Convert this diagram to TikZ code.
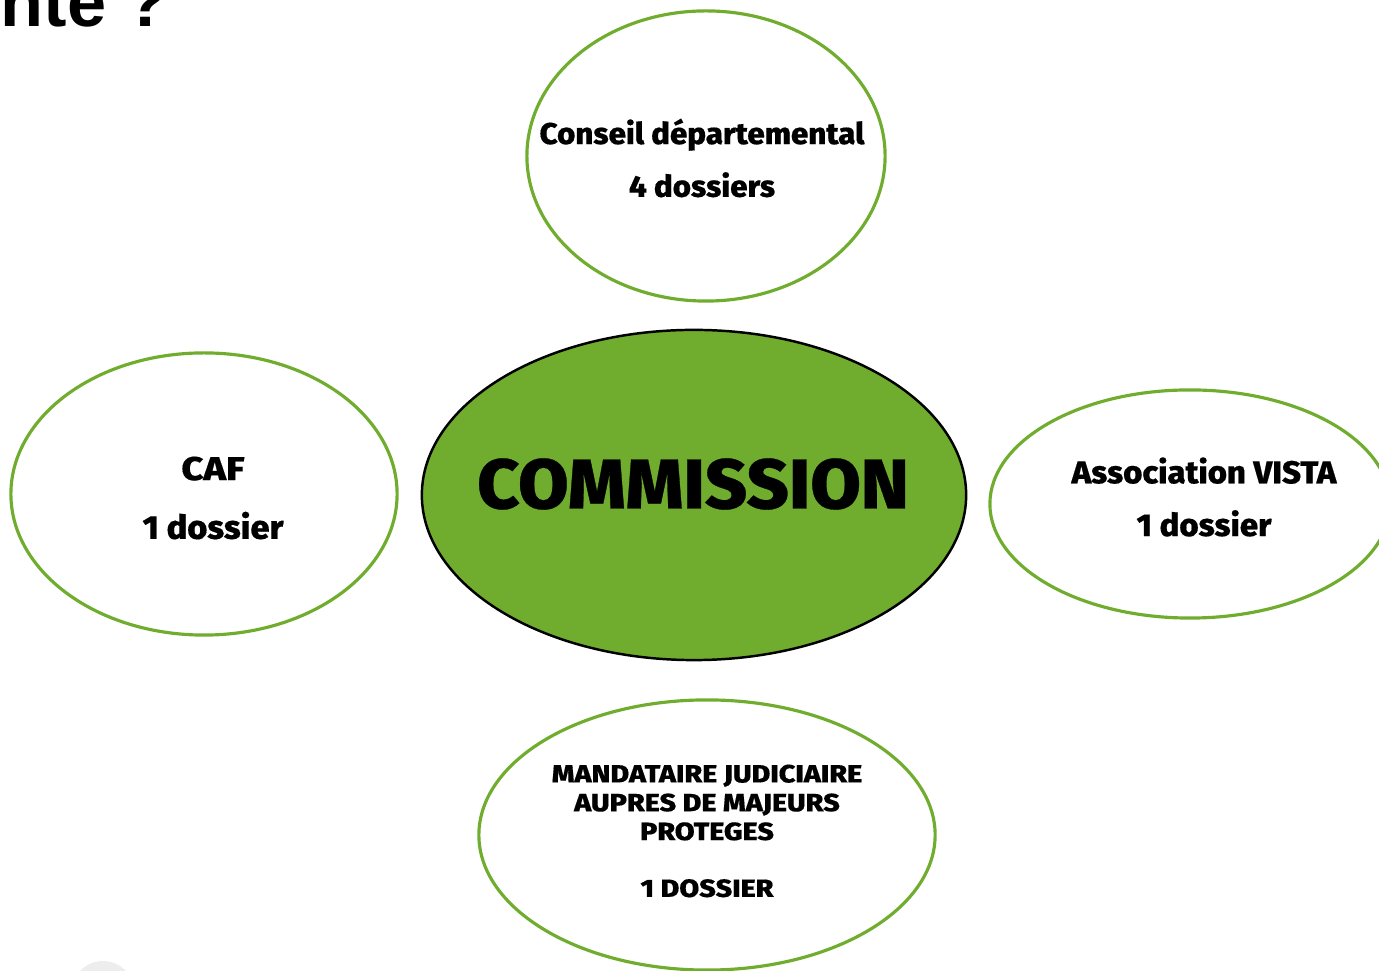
\documentclass[tikz,border=0pt]{standalone}
\usepackage{fontspec}
\setmainfont{Liberation Sans}
\newfontfamily\heavy[FakeStretch=1.04, FakeBold=0.4]{Fira Sans ExtraBold}
\newfontfamily\heavycaps[FakeStretch=1.15, FakeBold=0.4]{Fira Sans ExtraBold}
\usetikzlibrary{shapes.geometric}

\definecolor{leaf}{RGB}{112,173,47}

\tikzset{
  bubble/.style={ellipse, draw=leaf, line width=0.9pt, fill=white, inner sep=0pt},
  core/.style={ellipse, draw=black, line width=0.7pt, fill=leaf, inner sep=0pt},
  lbl/.style={align=center, inner sep=0pt, font=\heavy\fontsize{8.55}{15}\selectfont}
}

\begin{document}
\begin{tikzpicture}[x=0.01cm, y=-0.01cm]
  \useasboundingbox (0,0) rectangle (1379,971);

  % Title left over from the slide above
  \node[anchor=base west, inner sep=0pt, font=\bfseries\fontsize{20}{24}\selectfont]
    (title) at (0,27) {nte ?};

  % Faint round shape in the corner
  \fill[black!7] (103,992) circle (31);

  % The five bubbles
  \node[bubble, minimum width=3.58cm, minimum height=2.90cm] (conseil) at (706,156) {};
  \node[bubble, minimum width=3.86cm, minimum height=2.82cm] (caf) at (204,494) {};
  \node[core, minimum width=5.44cm, minimum height=3.30cm] (commission) at (694,495) {};
  \node[bubble, minimum width=4.00cm, minimum height=2.28cm] (vista) at (1190,504) {};
  \node[bubble, minimum width=4.56cm, minimum height=2.70cm] (mandataire) at (707,835) {};

  % Texts
  \node[lbl] (conseilText) at (702,158) {Conseil départemental\\4 dossiers};
  \node[lbl, font=\heavy\fontsize{9.4}{16.7}\selectfont] (cafText) at (213,498)
    {{\heavycaps CAF}\\1 dossier};
  \node[lbl, font=\heavy\fontsize{9.0}{15}\selectfont] (vistaText) at (1204,497)
    {Association VISTA\\1 dossier};
  \node[lbl, font=\heavy\fontsize{20}{22}\selectfont] (comText) at (693,484) {COMMISSION};
  \node[lbl, font=\heavycaps\fontsize{7.1}{8.2}\selectfont] (mandText) at (707,831)
    {MANDATAIRE JUDICIAIRE\\AUPRES DE MAJEURS\\PROTEGES\\[0.28cm]1 DOSSIER};
\end{tikzpicture}
\end{document}
